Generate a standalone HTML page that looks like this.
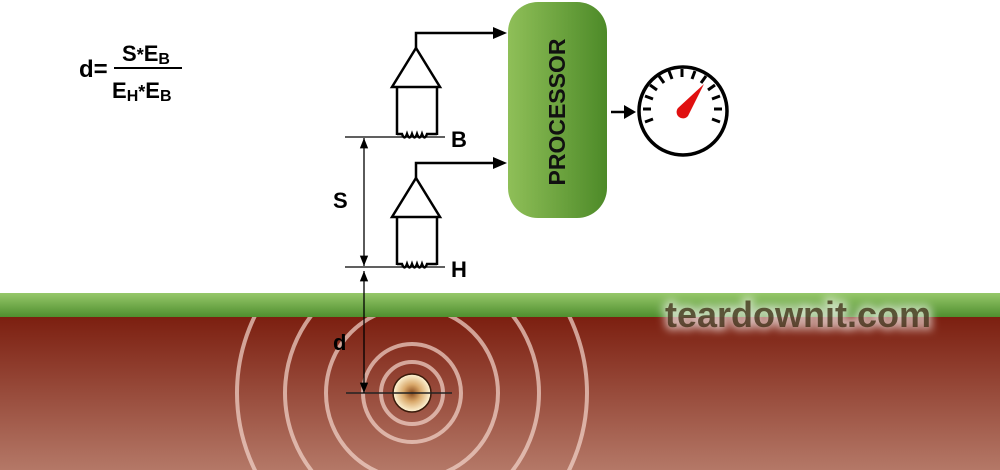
<!DOCTYPE html>
<html><head><style>html,body{margin:0;padding:0;background:#fff;overflow:hidden;width:1000px;height:470px}svg{display:block}</style></head><body>
<svg width="1000" height="470" viewBox="0 0 1000 470" xmlns="http://www.w3.org/2000/svg" font-family="Liberation Sans, Arial, sans-serif">
<defs>
<linearGradient id="gr" x1="0" y1="0" x2="0" y2="1"><stop offset="0" stop-color="#96c86a"/><stop offset="1" stop-color="#4f8e2e"/></linearGradient>
<linearGradient id="br" x1="0" y1="0" x2="0" y2="1"><stop offset="0" stop-color="#7c1f10"/><stop offset="1" stop-color="#b47867"/></linearGradient>
<linearGradient id="pg" x1="0" y1="0" x2="1" y2="0"><stop offset="0" stop-color="#8fbf58"/><stop offset="1" stop-color="#4d8a28"/></linearGradient>
<radialGradient id="tg"><stop offset="0" stop-color="#8a4a1c"/><stop offset="0.45" stop-color="#d9a86a"/><stop offset="1" stop-color="#fff6d8"/></radialGradient>
<filter id="glow" x="-10%" y="-40%" width="120%" height="180%"><feGaussianBlur stdDeviation="4"/></filter>
<clipPath id="cl"><rect x="0" y="317" width="1000" height="153"/></clipPath>
<marker id="ar" viewBox="0 0 10 10" refX="10" refY="5" markerWidth="8" markerHeight="8" orient="auto-start-reverse"><path d="M0,1L10,5L0,9z" fill="#000"/></marker>
</defs>
<rect x="0" y="293" width="1000" height="24" fill="url(#gr)"/>
<rect x="0" y="317" width="1000" height="153" fill="url(#br)"/>
<g clip-path="url(#cl)" fill="none" stroke="#f3d6cc" stroke-opacity="0.7" stroke-width="4">
<circle cx="412" cy="393" r="31"/><circle cx="412" cy="393" r="49"/><circle cx="412" cy="393" r="86"/><circle cx="412" cy="393" r="127"/><circle cx="412" cy="393" r="175"/>
</g>
<circle cx="412" cy="393" r="19" fill="url(#tg)" stroke="#3a1a0a" stroke-width="1.5"/>
<line x1="346" y1="393" x2="452" y2="393" stroke="#222" stroke-width="1.5"/>
<line x1="364" y1="271" x2="364" y2="393" stroke="#000" stroke-width="1.3" marker-start="url(#ar)" marker-end="url(#ar)"/>
<text x="333" y="350" font-size="22" font-weight="bold">d</text>
<line x1="345" y1="137" x2="445" y2="137" stroke="#000" stroke-width="1.3"/>
<line x1="345" y1="267" x2="445" y2="267" stroke="#000" stroke-width="1.3"/>
<line x1="364" y1="138" x2="364" y2="266" stroke="#000" stroke-width="1.3" marker-start="url(#ar)" marker-end="url(#ar)"/>
<text x="333" y="208" font-size="22" font-weight="bold">S</text>
<text x="451" y="147" font-size="22" font-weight="bold">B</text>
<text x="451" y="277" font-size="22" font-weight="bold">H</text>
<g fill="none" stroke="#000" stroke-width="2.5">
<g id="s1">
<path d="M392,87L416,48L440,87Z"/>
<path d="M397,87V135M437,87V135"/>
<path d="M397,134H402 q2.5,7 5,0 q2.5,7 5,0 q2.5,7 5,0 q2.5,7 5,0 q2.5,7 5,0 H437"/>
<path d="M416,48V33H497"/>
</g>
<use href="#s1" y="130"/>
</g>
<path d="M493,27L507,33L493,39Z"/>
<path d="M493,157L507,163L493,169Z"/>
<rect x="508" y="2" width="99" height="216" rx="30" fill="url(#pg)"/>
<text transform="translate(565,112) rotate(-90)" text-anchor="middle" font-size="23" font-weight="bold" fill="#111">PROCESSOR</text>
<line x1="611" y1="112" x2="626" y2="112" stroke="#000" stroke-width="2.5"/>
<path d="M624,105L636,112L624,119Z"/>
<circle cx="683" cy="111" r="44" fill="#fff" stroke="#000" stroke-width="3.5"/>
<g stroke="#000" stroke-width="3">
<line x1="645" y1="122" x2="653" y2="119"/><line x1="643" y1="109" x2="651" y2="109"/><line x1="645" y1="96" x2="653" y2="99"/><line x1="650" y1="85" x2="657" y2="90"/><line x1="659" y1="76" x2="664" y2="83"/><line x1="669" y1="71" x2="672" y2="79"/><line x1="682" y1="69" x2="682" y2="77"/><line x1="695" y1="71" x2="692" y2="79"/><line x1="706" y1="76" x2="701" y2="83"/><line x1="715" y1="85" x2="708" y2="90"/><line x1="720" y1="96" x2="712" y2="99"/><line x1="722" y1="109" x2="714" y2="109"/><line x1="720" y1="122" x2="712" y2="119"/>
</g>
<path d="M704,84L688,116 A5,5 0 1 1 678,108Z" fill="#e01010"/>
<g font-weight="bold" fill="#000">
<text x="79" y="77" font-size="24">d=</text>
<line x1="114" y1="68" x2="182" y2="68" stroke="#000" stroke-width="2"/>
<text x="122" y="61" font-size="22">S<tspan font-size="18">*</tspan>E<tspan font-size="16" dy="3">B</tspan></text>
<text x="112" y="98" font-size="22">E<tspan font-size="16" dy="3">H</tspan><tspan font-size="18" dy="-3">*</tspan>E<tspan font-size="16" dy="3">B</tspan></text>
</g>
<text x="665" y="327" font-size="36" font-weight="bold" fill="#fff" fill-opacity="0.55" stroke="#fff" stroke-width="8" stroke-opacity="0.4" filter="url(#glow)">teardownit.com</text>
<text x="665" y="327" font-size="36" font-weight="bold" fill="#3a2a10" fill-opacity="0.75">teardownit.com</text>
</svg>
</body></html>
